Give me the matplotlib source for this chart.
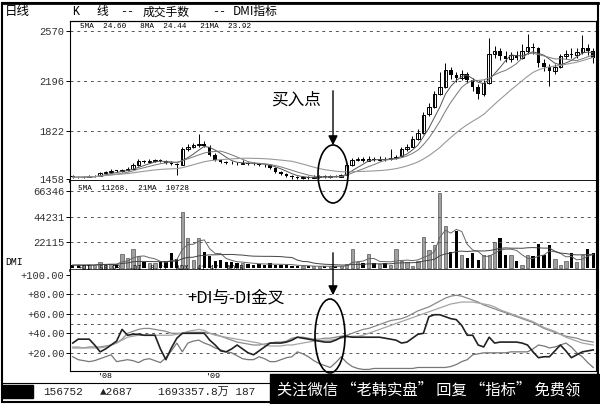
import numpy as np
import pandas as pd
import matplotlib
matplotlib.use('Agg')
import matplotlib.pyplot as plt
from matplotlib.patches import Ellipse, Rectangle

# ---- values ----
opens = [1478, 1472, 1470, 1476, 1478, 1482, 1505, 1512, 1522, 1515,
         1525, 1536, 1562, 1592, 1585, 1596, 1600, 1592, 1576, 1570,
         1566, 1680, 1700, 1710, 1722, 1700, 1640, 1600, 1585, 1580,
         1578, 1574, 1580, 1572, 1570, 1566, 1560, 1540, 1510, 1495,
         1478, 1470, 1465, 1472, 1468, 1475, 1478, 1472, 1480, 1476,
         1488, 1560, 1600, 1605, 1595, 1610, 1600, 1612, 1605, 1618,
         1628, 1680, 1700, 1760, 1800, 1945, 2000, 2100, 2150, 2280,
         2240, 2220, 2250, 2200, 2150, 2100, 2180, 2400, 2420, 2380,
         2360, 2390, 2370, 2420, 2450, 2440, 2330, 2300, 2270, 2300,
         2380, 2400, 2390, 2410, 2440, 2420]
highs = [1485, 1480, 1484, 1488, 1490, 1512, 1520, 1530, 1528, 1535,
         1545, 1575, 1605, 1600, 1610, 1612, 1605, 1598, 1590, 1580,
         1700, 1720, 1730, 1794, 1740, 1710, 1650, 1612, 1595, 1590,
         1588, 1600, 1588, 1582, 1578, 1572, 1565, 1548, 1520, 1502,
         1485, 1480, 1482, 1480, 1485, 1490, 1486, 1488, 1490, 1492,
         1575, 1615, 1625, 1620, 1630, 1622, 1628, 1620, 1680, 1640,
         1700, 1720, 1780, 1830, 1960, 2030, 2120, 2260, 2330, 2300,
         2260, 2280, 2265, 2220, 2170, 2200, 2520, 2460, 2440, 2420,
         2410, 2420, 2470, 2550, 2480, 2450, 2360, 2320, 2320, 2400,
         2430, 2440, 2440, 2540, 2470, 2440]
lows = [1465, 1462, 1466, 1470, 1472, 1478, 1498, 1506, 1508, 1510,
        1518, 1530, 1555, 1575, 1580, 1588, 1585, 1570, 1562, 1490,
        1560, 1670, 1690, 1700, 1695, 1630, 1590, 1578, 1570, 1570,
        1565, 1570, 1565, 1562, 1558, 1545, 1530, 1500, 1485, 1470,
        1460, 1455, 1460, 1460, 1462, 1468, 1465, 1468, 1470, 1470,
        1485, 1555, 1590, 1585, 1590, 1592, 1595, 1596, 1600, 1610,
        1620, 1670, 1695, 1750, 1795, 1930, 1990, 2090, 2140, 2210,
        2190, 2200, 2180, 2120, 2060, 2080, 2170, 2370, 2350, 2340,
        2340, 2350, 2360, 2400, 2400, 2300, 2270, 2160, 2250, 2290,
        2360, 2370, 2370, 2400, 2390, 2330]
closes = [1472, 1470, 1476, 1478, 1480, 1505, 1512, 1520, 1515, 1525,
          1535, 1560, 1590, 1585, 1595, 1600, 1592, 1575, 1570, 1565,
          1680, 1700, 1710, 1720, 1705, 1640, 1600, 1585, 1580, 1578,
          1575, 1580, 1572, 1570, 1565, 1560, 1540, 1510, 1495, 1478,
          1470, 1465, 1472, 1468, 1475, 1478, 1472, 1480, 1476, 1485,
          1560, 1600, 1605, 1595, 1610, 1600, 1612, 1605, 1618, 1625,
          1680, 1700, 1760, 1800, 1940, 2000, 2100, 2150, 2280, 2240,
          2220, 2250, 2200, 2150, 2100, 2180, 2400, 2420, 2380, 2360,
          2390, 2370, 2420, 2450, 2440, 2330, 2300, 2270, 2300, 2380,
          2400, 2390, 2410, 2440, 2420, 2370]
volume = [2500, 2600, 2400, 2800, 2500, 5000, 3000, 3500, 3000, 12000,
          9000, 16000, 10000, 5000, 4500, 4000, 5000, 6000, 12700, 8000,
          48500, 26000, 7000, 26000, 13600, 10000, 6000, 6500, 5000, 5500,
          4000, 4500, 3500, 3000, 3500, 3000, 4000, 3000, 2500, 3000,
          2000, 1500, 1800, 1500, 1400, 1500, 1600, 1500, 1400, 1500,
          3400, 16000, 5000, 4000, 12000, 4000, 3500, 4000, 3000, 16000,
          6000, 5000, 2000, 6000, 26400, 15300, 20000, 64600, 36500, 13600,
          31500, 11000, 9000, 12500, 7000, 11000, 11000, 22000, 26000, 11000,
          11000, 6000, 3000, 11000, 10000, 21000, 11000, 20000, 8000, 3000,
          6000, 13000, 5000, 11000, 16000, 13000]
pdi = [30, 34, 34, 34, 28, 21, 24, 28, 32, 44,
       38, 39, 39, 38, 38, 38, 24, 13, 25, 35,
       40, 40, 40, 40, 40, 33, 28, 22, 21, 24,
       28, 24, 20, 18, 22, 26, 30, 30, 30, 31,
       33, 36, 35, 34, 33, 32, 31, 31, 33, 36,
       37, 36, 36, 36, 36, 36, 36, 35, 34, 33,
       30, 31, 35, 39, 40, 57, 59, 59, 57, 55,
       54, 48, 38, 38, 28, 26, 36, 30, 31, 31,
       31, 31, 30, 28, 21, 15, 16, 16, 22, 28,
       22, 15, 18, 21, 22, 23]
mdi = [16, 13, 12, 11, 12, 14, 16, 18, 11, 12,
       13, 12, 10, 13, 14, 12, 10, 15, 22, 30,
       21, 30, 32, 33, 30, 28, 25, 23, 21, 20,
       17, 14, 13, 13, 16, 14, 11, 11, 13, 15,
       16, 21, 19, 16, 12, 9, 7, 5, 10, 16,
       10, 6, 4, 3, 3, 4, 4, 4, 4, 4,
       4, 4, 4, 5, 5, 5, 5, 5, 5, 6,
       8, 11, 13, 18, 19, 20, 20, 20, 20, 20,
       21, 21, 21, 21, 24, 28, 27, 25, 26, 28,
       30, 26, 20, 16, 10, 5]
adx = [25, 25, 25, 26, 26, 26, 27, 28, 30, 34,
       40, 42, 44, 45, 45, 44, 43, 42, 40, 40,
       40, 41, 41, 41, 41, 40, 39, 37, 35, 33,
       31, 30, 29, 28, 28, 29, 30, 31, 31, 32,
       35, 36, 36, 35, 34, 34, 35, 35, 36, 37,
       38, 40, 42, 44, 45, 47, 49, 51, 53, 54,
       55, 57, 60, 63, 65, 67, 70, 73, 76, 78,
       79, 78, 76, 74, 72, 69, 67, 65, 63, 61,
       59, 57, 55, 53, 51, 48, 45, 43, 41, 39,
       37, 36, 35, 33, 32, 31]
adxr = [26, 26, 25, 25, 25, 25, 26, 28, 30, 33,
        36, 37, 38, 38, 38, 38, 38, 38, 38, 39,
        40, 42, 43, 44, 43, 40, 38, 37, 36, 35,
        34, 33, 32, 31, 30, 28, 27, 27, 27, 28,
        28, 29, 30, 31, 32, 32, 33, 33, 34, 35,
        36, 37, 37, 38, 40, 42, 44, 46, 48, 50,
        52, 54, 56, 58, 60, 62, 64, 66, 68, 70,
        71, 72, 72, 72, 71, 70, 69, 67, 64, 62,
        60, 58, 56, 54, 52, 49, 46, 44, 42, 39,
        36, 34, 32, 30, 29, 28]

price_ticks = [1458, 1822, 2196, 2570]
price_labels = ['1458', '1822', '2196', '2570']
vol_ticks = [22115, 44231, 66346]
vol_labels = ['22115', '44231', '66346']
dmi_ticks = [20, 40, 60, 80, 100]
dmi_labels = ['+20.00', '+40.00', '+60.00', '+80.00', '+100.00']
dmi_grid = [20, 40, 50, 60, 80]

W, H = 600, 404
cjk = ['Noto Sans CJK SC', 'DejaVu Sans']
mono = ['Liberation Mono', 'Noto Sans CJK SC', 'DejaVu Sans']


def box(x0, y0, x1, y1):
    return [x0 / W, 1 - y1 / H, (x1 - x0) / W, (y1 - y0) / H]


def P(x, y):
    return x / W, 1 - y / H


fig = plt.figure(figsize=(6, 4.04), dpi=100)
fig.patch.set_facecolor('white')

ax_p = fig.add_axes(box(70, 21, 596, 181))
ax_v = fig.add_axes(box(70, 181, 596, 270))
ax_d = fig.add_axes(box(70, 270, 596, 371))

x = np.arange(len(closes))
o = np.array(opens)
c = np.array(closes)
up = c >= o

for ax in (ax_p, ax_v, ax_d):
    ax.set_xlim(-0.5, len(x) - 0.5)
    ax.set_xticks([])
    for s in ax.spines.values():
        s.set_linewidth(0.8)
    ax.tick_params(axis='y', length=3, width=0.7, pad=1, labelsize=7.5)

# price panel
ax_p.set_ylim(1443, 2645)
for g in price_ticks[1:]:
    ax_p.axhline(g, color='#555555', lw=0.7, ls=(0, (3, 4)))
ax_p.vlines(x, lows, highs, color='black', lw=0.7)
ax_p.bar(x[up], (c - o)[up], bottom=o[up], width=0.65,
         facecolor='white', edgecolor='black', lw=0.7)
ax_p.bar(x[~up], (o - c)[~up], bottom=c[~up], width=0.65, color='black')
cs = pd.Series(closes)
ax_p.plot(x, cs.rolling(5, min_periods=1).mean(), color='#555555', lw=0.7)
ax_p.plot(x, cs.rolling(8, min_periods=1).mean(), color='#777777', lw=0.7)
ax_p.plot(x, cs.rolling(21, min_periods=1).mean(), color='#999999', lw=0.8)
ax_p.set_yticks(price_ticks)
ax_p.set_yticklabels(price_labels, family=mono, color='#333333')
ax_p.spines['bottom'].set_linewidth(2)

# volume panel
ax_v.set_ylim(-1700, 74850)
for g in vol_ticks:
    ax_v.axhline(g, color='#555555', lw=0.7, ls=(0, (3, 4)))
vol = np.array(volume)
ax_v.bar(x[up], vol[up], width=0.6, facecolor='#a0a0a0', edgecolor='#555555', lw=0.5)
ax_v.bar(x[~up], vol[~up], width=0.6, color='black')
vs = pd.Series(volume)
ax_v.plot(x, vs.rolling(5, min_periods=1).mean(), color='#666666', lw=0.7)
ax_v.plot(x, vs.rolling(21, min_periods=1).mean(), color='#444444', lw=0.7)
ax_v.set_yticks(vol_ticks)
ax_v.set_yticklabels(vol_labels, family=mono, color='#333333')
ax_v.spines['bottom'].set_linewidth(1.8)
ax_v.spines['top'].set_visible(False)

# DMI panel
ax_d.set_ylim(1.4, 104.8)
for g in dmi_grid:
    ax_d.axhline(g, color='#555555', lw=0.7, ls=(0, (3, 4)))
ax_d.plot(x, adx, color='#8a8a8a', lw=0.9)
ax_d.plot(x, adxr, color='#a5a5a5', lw=0.9)
ax_d.plot(x, mdi, color='#777777', lw=0.9)
ax_d.plot(x, pdi, color='#222222', lw=1.2)
ax_d.set_yticks(dmi_ticks)
ax_d.set_yticklabels(dmi_labels, family=mono, color='#333333')
ax_d.spines['top'].set_visible(False)

# header and panel captions
fig.text(*P(5, 12), '日线', family=cjk, fontsize=9, va='center')
fig.text(*P(72, 12), 'K', family=mono, fontsize=8.5, va='center')
fig.text(*P(96, 12), '线', family=cjk, fontsize=8.5, va='center')
fig.text(*P(120, 12), '--', family=mono, fontsize=8.5, va='center')
fig.text(*P(143, 12), '成交手数', family=cjk, fontsize=8.5, va='center')
fig.text(*P(212, 12), '--', family=mono, fontsize=8.5, va='center')
fig.text(*P(233, 12), 'DMI指标', family=cjk, fontsize=8.5, va='center')
fig.text(*P(80, 26), '5MA  24.60   8MA  24.44   21MA  23.92', family=mono,
         fontsize=5.5, va='center')
fig.text(*P(78, 188), '5MA  11268.  21MA  10728', family=mono, fontsize=5.5, va='center')
fig.text(*P(78, 269), '+DI  58.93  -DI  8.71  ADX  41.47  ADXR', family=mono,
         fontsize=5, va='center')
fig.text(*P(5, 262), 'DMI', family=mono, fontsize=7, va='center')
fig.text(*P(105, 377), "'08", family=mono, fontsize=6, va='center', ha='center')
fig.text(*P(213, 377), "'09", family=mono, fontsize=6, va='center', ha='center')

# annotations
fig.text(*P(296, 100), '买入点', family=cjk, fontsize=12, va='center', ha='center')
ax_p.annotate('', xy=(333, H - 148), xytext=(333, H - 88),
              xycoords='figure pixels', textcoords='figure pixels',
              arrowprops=dict(arrowstyle='-|>', color='black', lw=1, mutation_scale=14),
              annotation_clip=False)
fig.add_artist(Ellipse(P(333, 174), 30 / W, 58 / H, transform=fig.transFigure,
                       fill=False, edgecolor='black', lw=1.2))
fig.text(*P(236, 298), '+DI与-DI金叉', family=cjk, fontsize=12, va='center', ha='center')
ax_d.annotate('', xy=(333, H - 298), xytext=(333, H - 250),
              xycoords='figure pixels', textcoords='figure pixels',
              arrowprops=dict(arrowstyle='-|>', color='black', lw=1, mutation_scale=14),
              annotation_clip=False)
fig.add_artist(Ellipse(P(330, 336), 30 / W, 74 / H, transform=fig.transFigure,
                       fill=False, edgecolor='black', lw=1.2))

# outer frame and header line
fig.add_artist(Rectangle(P(2, 402), 596 / W, 399 / H, transform=fig.transFigure,
                         fill=False, edgecolor='black', lw=1.5))
fig.add_artist(plt.Line2D([2 / W, 598 / W], [1 - 3 / H, 1 - 3 / H],
                          transform=fig.transFigure, color='black', lw=2))
fig.add_artist(plt.Line2D([70 / W, 597 / W], [1 - 21 / H, 1 - 21 / H],
                          transform=fig.transFigure, color='black', lw=0.8))

# status bar
fig.add_artist(Rectangle(P(2, 398), 31 / W, 13 / H, transform=fig.transFigure,
                         color='black'))
fig.text(*P(43, 392), '156752', family=mono, fontsize=8, va='center', color='#222222')
fig.text(*P(100, 392), '▲2687', family=mono, fontsize=8, va='center', color='#222222')
fig.text(*P(158, 392), '1693357.8万 187', family=mono, fontsize=8, va='center',
         color='#222222')
fig.add_artist(plt.Line2D([2 / W, 598 / W], [1 - 383 / H, 1 - 383 / H],
                          transform=fig.transFigure, color='black', lw=0.8))

# watermark strip
fig.add_artist(Rectangle(P(270, 404), 330 / W, 30 / H, transform=fig.transFigure,
                         color='black', zorder=5))
fig.text(*P(277, 390), '关注微信 “老韩实盘” 回复 “指标” 免费领', family=cjk,
         fontsize=11, va='center', color='white', zorder=6)

fig.savefig('out.png', dpi=100)
